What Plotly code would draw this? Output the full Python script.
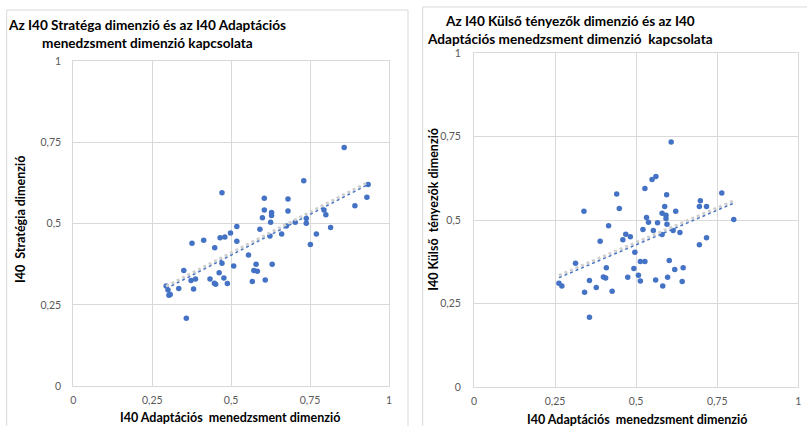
import numpy as np
import plotly.graph_objects as go

# Adaptációs menedzsment (x) vs. Stratégia dimenzió (y)
strat_x = [0.858, 0.730, 0.471, 0.605, 0.680, 0.934, 0.930, 0.605, 0.680, 0.628,
           0.628, 0.599, 0.892, 0.794, 0.800, 0.738, 0.738, 0.815, 0.703, 0.675,
           0.625, 0.660, 0.623, 0.591, 0.518, 0.498, 0.518, 0.480, 0.465, 0.413,
           0.376, 0.448, 0.770, 0.751, 0.555, 0.471, 0.508, 0.579, 0.630, 0.572,
           0.583, 0.350, 0.462, 0.477, 0.433, 0.387, 0.373, 0.567, 0.608, 0.447,
           0.451, 0.488, 0.381, 0.334, 0.294, 0.300, 0.303, 0.307, 0.358]
strat_y = [0.734, 0.632, 0.595, 0.578, 0.576, 0.620, 0.581, 0.542, 0.539, 0.534,
           0.525, 0.518, 0.555, 0.542, 0.527, 0.516, 0.501, 0.488, 0.504, 0.493,
           0.504, 0.468, 0.462, 0.483, 0.491, 0.471, 0.446, 0.459, 0.457, 0.449,
           0.440, 0.426, 0.468, 0.436, 0.404, 0.378, 0.370, 0.375, 0.375, 0.356,
           0.354, 0.356, 0.349, 0.333, 0.330, 0.330, 0.325, 0.322, 0.327, 0.317,
           0.314, 0.316, 0.299, 0.301, 0.308, 0.296, 0.280, 0.282, 0.209]

# Adaptációs menedzsment (x) vs. Külső tényezők dimenzió (y)
kulso_x = [0.608, 0.561, 0.549, 0.527, 0.440, 0.594, 0.764, 0.698, 0.695, 0.717,
           0.588, 0.622, 0.339, 0.448, 0.580, 0.592, 0.592, 0.532, 0.538, 0.566,
           0.595, 0.801, 0.521, 0.553, 0.614, 0.635, 0.580, 0.415, 0.468, 0.482,
           0.459, 0.389, 0.717, 0.695, 0.496, 0.513, 0.527, 0.602, 0.313, 0.408,
           0.493, 0.619, 0.645, 0.507, 0.399, 0.406, 0.474, 0.597, 0.356, 0.513,
           0.560, 0.642, 0.262, 0.271, 0.377, 0.582, 0.341, 0.426, 0.356]
kulso_y = [0.734, 0.631, 0.622, 0.595, 0.578, 0.576, 0.581, 0.558, 0.541, 0.541,
           0.541, 0.527, 0.527, 0.535, 0.521, 0.515, 0.505, 0.508, 0.494, 0.492,
           0.488, 0.502, 0.472, 0.469, 0.469, 0.463, 0.457, 0.483, 0.458, 0.450,
           0.441, 0.437, 0.447, 0.426, 0.404, 0.376, 0.376, 0.379, 0.371, 0.357,
           0.355, 0.352, 0.357, 0.335, 0.330, 0.327, 0.329, 0.329, 0.319, 0.318,
           0.321, 0.316, 0.311, 0.303, 0.298, 0.303, 0.284, 0.287, 0.209]

tick_vals = [0, 0.25, 0.5, 0.75, 1]
tick_text = ["0", "0,25", "0,5", "0,75", "1"]

W, H = 807, 426
BLUE = "#4472C4"
GRID = "#d9d9d9"
TICK_COLOR = "#595959"
FONT = "Lato, 'Open Sans', sans-serif"


def px_x(p):
    return p / W


def px_y(p):
    return 1 - p / H


fig = go.Figure()


def add_panel(xs, ys, xa, ya):
    fig.add_trace(go.Scatter(
        x=xs, y=ys, mode="markers", xaxis=xa, yaxis=ya,
        marker=dict(color=BLUE, size=5.5, line=dict(width=0)),
        showlegend=False, hoverinfo="x+y"))
    # linear trend line over the data range, with a soft grey shadow
    k, b = np.polyfit(xs, ys, 1)
    tx = np.array([min(xs), max(xs)])
    ty = k * tx + b
    fig.add_trace(go.Scatter(
        x=tx, y=ty + 0.007, mode="lines", xaxis=xa, yaxis=ya,
        line=dict(color="#cfcfcf", width=3, dash="dot"),
        showlegend=False, hoverinfo="skip"))
    fig.add_trace(go.Scatter(
        x=tx, y=ty, mode="lines", xaxis=xa, yaxis=ya,
        line=dict(color=BLUE, width=1.4, dash="dot"),
        showlegend=False, hoverinfo="skip"))


add_panel(strat_x, strat_y, "x", "y")
add_panel(kulso_x, kulso_y, "x2", "y2")

axis_common = dict(
    range=[0, 1], tickvals=tick_vals, ticktext=tick_text,
    showgrid=True, gridcolor=GRID, gridwidth=1,
    showline=True, linecolor=GRID, linewidth=1, mirror=True,
    zeroline=False, ticks="", automargin=False,
    tickfont=dict(family=FONT, size=10.5, color=TICK_COLOR),
    fixedrange=True,
)

fig.update_layout(
    width=W, height=H,
    margin=dict(l=0, r=0, t=0, b=0, autoexpand=False),
    paper_bgcolor="white", plot_bgcolor="white",
    font=dict(family=FONT),
    xaxis=dict(domain=[px_x(73.3), px_x(389)], anchor="y",
               ticklabelstandoff=4, **axis_common),
    yaxis=dict(domain=[px_y(386.3), px_y(61)], anchor="x",
               ticklabelstandoff=9, **axis_common),
    xaxis2=dict(domain=[px_x(474), px_x(798.3)], anchor="y2",
                ticklabelstandoff=4, **axis_common),
    yaxis2=dict(domain=[px_y(387), px_y(53.3)], anchor="x2",
                ticklabelstandoff=10, **axis_common),
    shapes=[
        dict(type="rect", xref="paper", yref="paper",
             x0=px_x(6.7), x1=px_x(408), y0=px_y(440), y1=px_y(10),
             line=dict(color=GRID, width=1), layer="below"),
        dict(type="rect", xref="paper", yref="paper",
             x0=px_x(422.7), x1=px_x(820), y0=px_y(440), y1=px_y(7),
             line=dict(color=GRID, width=1), layer="below"),
    ],
)

title_font = dict(family=FONT, size=13.6, color="#000000")
axis_title_font = dict(family=FONT, size=12.5, color="#000000")

annotations = [
    # chart titles
    dict(text="<b>Az I40 Stratéga dimenzió és az I40 Adaptációs</b>",
         x=px_x(147), y=px_y(25), font=title_font),
    dict(text="<b>menedzsment dimenzió kapcsolata</b>",
         x=px_x(147.5), y=px_y(43), font=title_font),
    dict(text="<b>Az I40 Külső tényezők dimenzió és az I40</b>",
         x=px_x(570), y=px_y(21), font=title_font),
    dict(text="<b>Adaptációs menedzsment dimenzió\u00a0 kapcsolata</b>",
         x=px_x(570), y=px_y(39), font=title_font),
    # axis titles
    dict(text="<b>I40 Adaptációs\u00a0 menedzsment dimenzió</b>",
         x=px_x(230), y=px_y(417), font=axis_title_font),
    dict(text="<b>I40 Adaptációs\u00a0 menedzsment dimenzió</b>",
         x=px_x(637), y=px_y(419), font=axis_title_font),
    dict(text="<b>I40\u00a0 Stratégia dimenzió</b>",
         x=px_x(20), y=px_y(220), textangle=-90, font=axis_title_font),
    dict(text="<b>I40 Külső\u00a0 tényezők dimenzió</b>",
         x=px_x(432.7), y=px_y(209), textangle=-90, font=axis_title_font),
]
for a in annotations:
    a.update(xref="paper", yref="paper", showarrow=False,
             xanchor="center", yanchor="middle")
fig.update_layout(annotations=annotations)

fig.write_html("out.html")
